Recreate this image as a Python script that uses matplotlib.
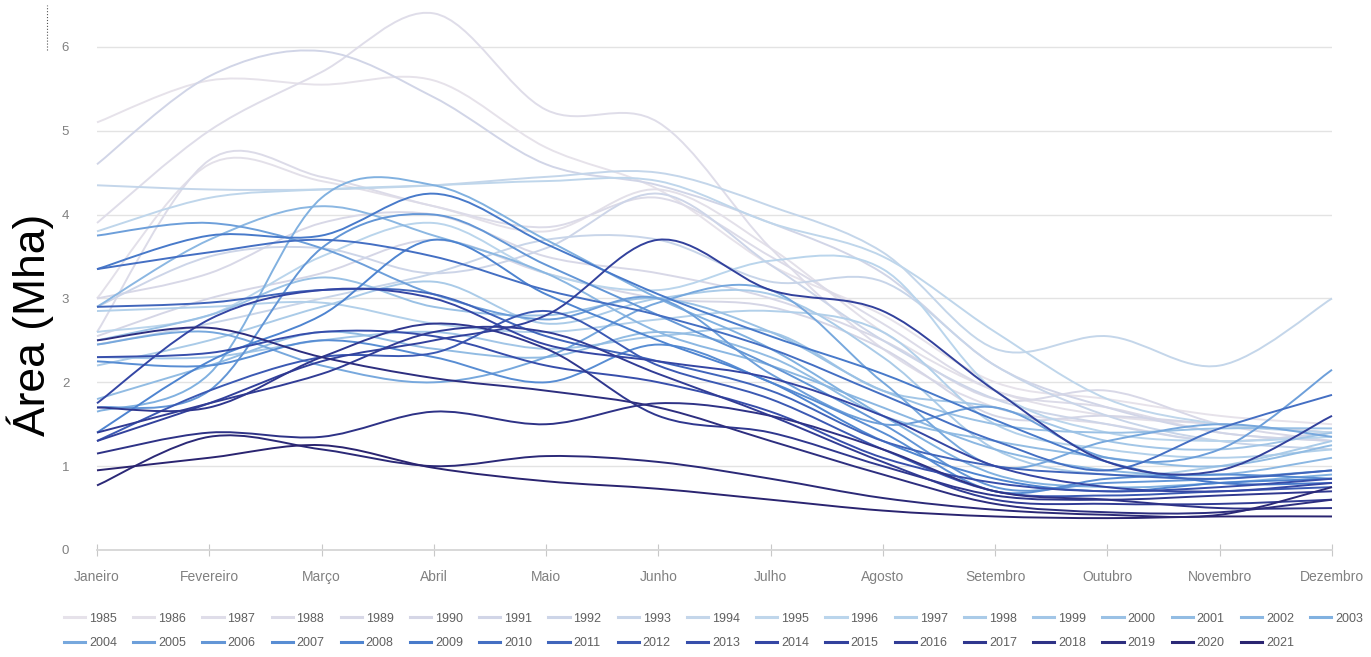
import matplotlib.pyplot as plt
import numpy as np
from matplotlib.path import Path
from matplotlib.patches import PathPatch
from matplotlib.lines import Line2D
from matplotlib.colors import LinearSegmentedColormap

plt.rcParams['font.family'] = ['Liberation Sans', 'DejaVu Sans']

# dados
meses = ['Janeiro', 'Fevereiro', 'Março', 'Abril', 'Maio', 'Junho',
         'Julho', 'Agosto', 'Setembro', 'Outubro', 'Novembro', 'Dezembro']
anos = list(range(1985, 2022))

a1985 = [5.10, 5.60, 5.55, 5.60, 4.80, 4.30, 3.40, 2.80, 2.00, 1.80, 1.60, 1.50]
a1986 = [3.00, 4.60, 4.40, 4.10, 3.80, 4.30, 3.60, 2.60, 1.90, 1.60, 1.50, 1.40]
a1987 = [3.90, 5.00, 5.70, 6.40, 5.25, 5.10, 3.60, 2.40, 1.70, 1.50, 1.30, 1.40]
a1988 = [2.60, 4.65, 4.45, 4.10, 3.85, 4.20, 3.50, 2.70, 1.90, 1.70, 1.40, 1.30]
a1989 = [3.00, 3.30, 3.90, 4.00, 3.50, 3.30, 3.00, 2.50, 1.80, 1.90, 1.50, 1.30]
a1990 = [2.55, 3.00, 3.30, 3.70, 3.30, 3.00, 2.90, 2.40, 1.60, 1.60, 1.50, 1.40]
a1991 = [4.60, 5.65, 5.95, 5.40, 4.60, 4.35, 3.90, 3.30, 2.20, 1.70, 1.40, 1.30]
a1992 = [2.90, 3.50, 3.60, 3.30, 3.60, 4.25, 3.40, 2.50, 1.80, 1.50, 1.30, 1.40]
a1993 = [2.45, 2.70, 3.00, 3.30, 3.70, 3.70, 3.20, 3.20, 2.20, 1.60, 1.30, 1.20]
a1994 = [4.35, 4.30, 4.30, 4.35, 4.45, 4.50, 4.10, 3.55, 2.40, 2.55, 2.20, 3.00]
a1995 = [3.80, 4.20, 4.30, 4.35, 4.40, 4.40, 3.90, 3.50, 2.60, 1.80, 1.50, 1.40]
a1996 = [2.60, 2.80, 3.50, 3.90, 3.30, 3.10, 3.45, 3.35, 1.90, 1.40, 1.30, 1.35]
a1997 = [2.85, 2.90, 2.95, 2.70, 2.60, 2.75, 2.85, 2.60, 1.50, 1.20, 1.10, 1.20]
a1998 = [2.20, 2.50, 2.90, 3.20, 2.70, 3.00, 3.05, 2.30, 1.20, 0.90, 1.00, 1.30]
a1999 = [2.30, 2.30, 2.50, 2.60, 2.40, 2.55, 2.60, 1.90, 1.70, 1.30, 1.20, 1.40]
a2000 = [2.50, 2.80, 3.25, 2.90, 2.80, 3.00, 2.60, 1.90, 1.50, 1.40, 1.45, 1.45]
a2001 = [1.80, 2.20, 2.60, 2.40, 2.30, 2.60, 2.30, 1.60, 1.30, 1.10, 1.00, 1.25]
a2002 = [2.90, 3.70, 4.10, 3.75, 3.30, 2.60, 2.20, 1.70, 1.20, 0.95, 0.90, 1.10]
a2003 = [1.65, 2.10, 4.20, 4.35, 3.70, 3.00, 2.40, 1.60, 0.90, 0.75, 0.80, 0.90]
a2004 = [2.45, 2.60, 2.20, 2.00, 2.30, 2.95, 3.10, 2.00, 1.00, 1.30, 1.50, 1.35]
a2005 = [3.75, 3.90, 3.60, 3.05, 2.75, 3.00, 2.10, 1.50, 1.70, 1.10, 1.20, 2.15]
a2006 = [1.70, 1.90, 3.60, 4.00, 3.40, 2.80, 2.20, 1.50, 0.75, 0.80, 0.85, 0.95]
a2007 = [2.25, 2.20, 2.50, 2.30, 2.00, 2.45, 2.00, 1.40, 0.70, 0.85, 0.90, 0.85]
a2008 = [1.40, 2.25, 2.80, 3.70, 3.05, 2.50, 2.00, 1.30, 0.85, 0.70, 0.80, 0.85]
a2009 = [3.35, 3.75, 3.75, 4.25, 3.65, 3.05, 2.55, 2.10, 1.55, 1.05, 0.80, 0.80]
a2010 = [3.35, 3.55, 3.70, 3.50, 3.10, 2.80, 2.40, 1.85, 1.30, 0.95, 1.45, 1.85]
a2011 = [2.90, 2.95, 3.10, 3.05, 2.55, 2.25, 1.90, 1.30, 1.00, 0.90, 0.85, 0.95]
a2012 = [1.30, 1.90, 2.30, 2.35, 2.85, 2.20, 1.80, 1.20, 0.70, 0.65, 0.70, 0.75]
a2013 = [2.30, 2.35, 2.60, 2.55, 2.20, 2.00, 1.65, 1.10, 0.80, 0.70, 0.75, 0.85]
a2014 = [1.75, 2.75, 3.10, 3.00, 2.45, 2.25, 2.05, 1.60, 1.00, 0.75, 0.70, 0.80]
a2015 = [1.30, 1.75, 2.25, 2.50, 2.80, 3.70, 3.10, 2.85, 1.90, 1.05, 0.95, 1.60]
a2016 = [1.40, 1.75, 2.10, 2.60, 2.60, 2.10, 1.60, 1.05, 0.60, 0.55, 0.55, 0.60]
a2017 = [1.70, 1.70, 2.30, 2.70, 2.40, 1.60, 1.40, 1.00, 0.65, 0.60, 0.65, 0.70]
a2018 = [1.15, 1.40, 1.35, 1.65, 1.50, 1.75, 1.60, 1.20, 0.70, 0.60, 0.50, 0.50]
a2019 = [2.50, 2.65, 2.30, 2.05, 1.90, 1.70, 1.30, 0.90, 0.55, 0.45, 0.45, 0.60]
a2020 = [0.77, 1.35, 1.20, 1.00, 1.12, 1.05, 0.85, 0.62, 0.48, 0.42, 0.42, 0.75]
a2021 = [0.95, 1.10, 1.25, 0.98, 0.82, 0.73, 0.60, 0.47, 0.40, 0.38, 0.40, 0.40]

series = [a1985, a1986, a1987, a1988, a1989, a1990, a1991, a1992, a1993, a1994,
          a1995, a1996, a1997, a1998, a1999, a2000, a2001, a2002, a2003, a2004,
          a2005, a2006, a2007, a2008, a2009, a2010, a2011, a2012, a2013, a2014,
          a2015, a2016, a2017, a2018, a2019, a2020, a2021]

# paleta: claro (1985) -> azul -> roxo escuro (2021)
cmap = LinearSegmentedColormap.from_list('anos', [
    (0.0, '#e6e2ea'), (0.15, '#d3d5e6'), (0.3, '#bcd6ec'), (0.5, '#82b2e0'),
    (0.65, '#4a80cf'), (0.8, '#3447a6'), (1.0, '#2a2470')])
cores = [cmap(i / (len(anos) - 1)) for i in range(len(anos))]


def curva_suave(xs, ys):
    # curva suavizada tipo Excel (Bezier por Catmull-Rom)
    pts = np.column_stack([xs, ys])
    verts = [pts[0]]
    codes = [Path.MOVETO]
    n = len(pts)
    for i in range(n - 1):
        p0 = pts[max(i - 1, 0)]
        p1 = pts[i]
        p2 = pts[i + 1]
        p3 = pts[min(i + 2, n - 1)]
        c1 = p1 + (p2 - p0) / 6.0
        c2 = p2 - (p3 - p1) / 6.0
        verts += [c1, c2, p2]
        codes += [Path.CURVE4] * 3
    return Path(verts, codes)


fig = plt.figure(figsize=(13.71, 6.57), dpi=100)
ax = fig.add_axes([97 / 1371, 107 / 657, 1235 / 1371, 545 / 657])

x = np.arange(len(meses))
for ano, vals, cor in zip(anos, series, cores):
    patch = PathPatch(curva_suave(x, vals), fill=False, edgecolor=cor,
                      lw=1.4, transform=ax.transData, clip_on=False)
    ax.add_patch(patch)

ax.set_xlim(0, 11)
ax.set_ylim(0, 6.5)
ax.set_yticks(range(0, 7))
ax.set_xticks(x)
ax.set_xticklabels(meses)
ax.grid(axis='y', color='#e3e3e3', lw=1.0)
ax.set_axisbelow(True)
for s in ['top', 'right', 'left']:
    ax.spines[s].set_visible(False)
ax.spines['bottom'].set_color('#d6d6d6')
ax.spines['bottom'].set_linewidth(1.3)
ax.tick_params(axis='x', direction='inout', length=9, color='#c8c8c8',
               labelcolor='#808080', labelsize=10, pad=10)
ax.tick_params(axis='y', length=0, labelcolor='#808080', labelsize=9.5, pad=20)

fig.text(0.022, (657 - 325) / 657, 'Área (Mha)', rotation=90, fontsize=32,
         ha='center', va='center', color='black')

# pequena linha pontilhada no canto
fig.add_artist(Line2D([47 / 1371, 47 / 1371], [(657 - 50) / 657, (657 - 5) / 657],
                      ls=':', color='#555555', lw=0.8))

# legenda em duas linhas (ordem por linha)
handles = [Line2D([], [], color=c, lw=2.2) for c in cores]
labels = [str(a) for a in anos]
ordem = []
for j in range(18):
    ordem += [j, 19 + j]
ordem.append(18)
fig.legend([handles[i] for i in ordem], [labels[i] for i in ordem],
           loc='center', bbox_to_anchor=(0.5204, (657 - 631) / 657), ncol=19,
           frameon=False, fontsize=9, labelcolor='#606060', handlelength=1.7,
           handletextpad=0.3, columnspacing=1.3, labelspacing=1.0)

plt.savefig('out.png', dpi=100)
